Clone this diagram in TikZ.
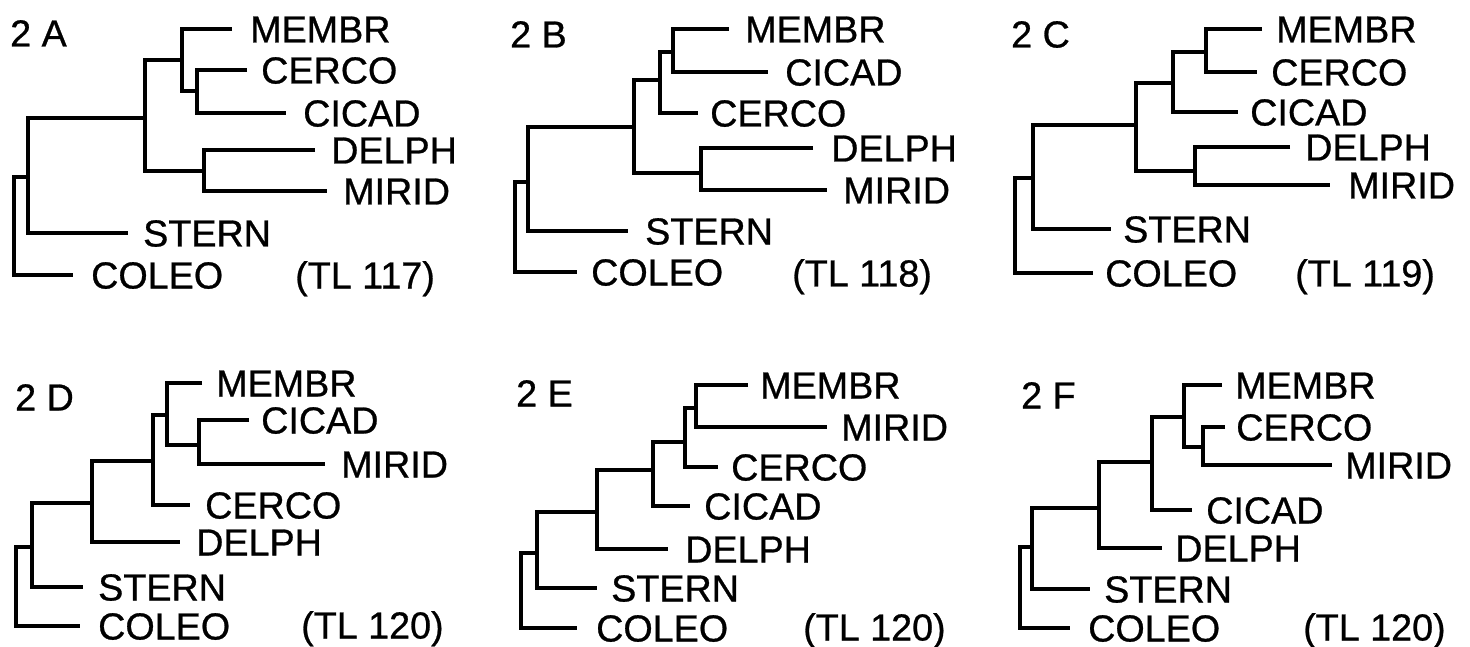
\documentclass[tikz,border=0pt]{standalone}
\usepackage{fontspec}
\setmainfont{Liberation Sans}
\newfontfamily\labfont{Liberation Sans}[FakeBold=0.7]
\begin{document}
\begin{tikzpicture}[x=1pt,y=-1pt,
  branch/.style={line width=4.8pt, line join=miter, line cap=butt},
  lab/.style={anchor=west, inner sep=0pt, xshift=-2pt,
    font=\labfont\fontsize{37.7}{40}\selectfont, text height=27pt, text depth=0pt},
  tag/.style={lab}]
\useasboundingbox[fill=white] (0,0) rectangle (1470,647);

% leaf: tip coordinate, label node beside it
\newcommand\leafnode[5]{%
  \coordinate (#1) at (#2,#4);
  \node[lab] (#1-name) at (#3,#4) {#5};}

% ---------------- 2 A ----------------
\node[tag] (tagA) at (12,33) {2 A};
\leafnode{a-membr}{232}{252}{29}{MEMBR}
\leafnode{a-cerco}{247}{263}{70}{CERCO}
\leafnode{a-cicad}{286}{305}{113}{CICAD}
\leafnode{a-delph}{315}{333}{150}{DELPH}
\leafnode{a-mirid}{327}{345}{191}{MIRID}
\leafnode{a-stern}{128}{145}{233}{STERN}
\leafnode{a-coleo}{73}{93}{275}{COLEO}
\node[lab] (tlA) at (297,275) {(TL 117)};
\coordinate (a1) at (197,91);
\coordinate (a2) at (182,60);
\coordinate (a3) at (204,171);
\coordinate (a4) at (145,118);
\coordinate (a5) at (28,177);
\coordinate (a6) at (14,226);
\draw[branch] (a-cerco) -| (a1) |- (a-cicad);
\draw[branch] (a-membr) -| (a2) |- (a1);
\draw[branch] (a-delph) -| (a3) |- (a-mirid);
\draw[branch] (a2) -| (a4) |- (a3);
\draw[branch] (a4) -| (a5) |- (a-stern);
\draw[branch] (a5) -| (a6) |- (a-coleo);

% ---------------- 2 B ----------------
\node[tag] (tagB) at (512,34) {2 B};
\leafnode{b-membr}{729}{747}{29}{MEMBR}
\leafnode{b-cicad}{768}{787}{72}{CICAD}
\leafnode{b-cerco}{698}{712}{113}{CERCO}
\leafnode{b-delph}{813}{833}{148}{DELPH}
\leafnode{b-mirid}{827}{845}{190}{MIRID}
\leafnode{b-stern}{628}{647}{231}{STERN}
\leafnode{b-coleo}{577}{593}{272}{COLEO}
\node[lab] (tlB) at (794,273) {(TL 118)};
\coordinate (b1) at (673,52);
\coordinate (b2) at (660,80);
\coordinate (b4) at (701,173);
\coordinate (b3) at (634,127);
\coordinate (b5) at (528,182);
\coordinate (b6) at (515,227);
\draw[branch] (b-membr) -| (b1) |- (b-cicad);
\draw[branch] (b1) -| (b2) |- (b-cerco);
\draw[branch] (b-delph) -| (b4) |- (b-mirid);
\draw[branch] (b2) -| (b3) |- (b4);
\draw[branch] (b3) -| (b5) |- (b-stern);
\draw[branch] (b5) -| (b6) |- (b-coleo);

% ---------------- 2 C ----------------
\node[tag] (tagC) at (1013,34) {2 C};
\leafnode{c-membr}{1262}{1278}{29}{MEMBR}
\leafnode{c-cerco}{1257}{1273}{72}{CERCO}
\leafnode{c-cicad}{1238}{1252}{112}{CICAD}
\leafnode{c-delph}{1290}{1307}{147}{DELPH}
\leafnode{c-mirid}{1330}{1350}{185}{MIRID}
\leafnode{c-stern}{1111}{1125}{229}{STERN}
\leafnode{c-coleo}{1093}{1107}{273}{COLEO}
\node[lab] (tlC) at (1297,273) {(TL 119)};
\coordinate (c1) at (1206,52);
\coordinate (c2) at (1173,83);
\coordinate (c4) at (1195,171);
\coordinate (c3) at (1136,125);
\coordinate (c5) at (1033,178);
\coordinate (c6) at (1015,225);
\draw[branch] (c-membr) -| (c1) |- (c-cerco);
\draw[branch] (c1) -| (c2) |- (c-cicad);
\draw[branch] (c-delph) -| (c4) |- (c-mirid);
\draw[branch] (c2) -| (c3) |- (c4);
\draw[branch] (c3) -| (c5) |- (c-stern);
\draw[branch] (c5) -| (c6) |- (c-coleo);

% ---------------- 2 D ----------------
\node[tag] (tagD) at (17,397) {2 D};
\leafnode{d-membr}{202}{218}{383}{MEMBR}
\leafnode{d-cicad}{249}{263}{420}{CICAD}
\leafnode{d-mirid}{325}{343}{464}{MIRID}
\leafnode{d-cerco}{190}{207}{505}{CERCO}
\leafnode{d-delph}{180}{198}{542}{DELPH}
\leafnode{d-stern}{83}{100}{587}{STERN}
\leafnode{d-coleo}{80}{100}{626}{COLEO}
\node[lab] (tlD) at (303,625) {(TL 120)};
\coordinate (d2) at (199,445);
\coordinate (d1) at (167,415);
\coordinate (d3) at (153,461);
\coordinate (d4) at (92,503);
\coordinate (d5) at (32,547);
\coordinate (d6) at (16,590);
\draw[branch] (d-cicad) -| (d2) |- (d-mirid);
\draw[branch] (d-membr) -| (d1) |- (d2);
\draw[branch] (d1) -| (d3) |- (d-cerco);
\draw[branch] (d3) -| (d4) |- (d-delph);
\draw[branch] (d4) -| (d5) |- (d-stern);
\draw[branch] (d5) -| (d6) |- (d-coleo);

% ---------------- 2 E ----------------
\node[tag] (tagE) at (518,393) {2 E};
\leafnode{e-membr}{748}{762}{385}{MEMBR}
\leafnode{e-mirid}{827}{843}{427}{MIRID}
\leafnode{e-cerco}{718}{733}{467}{CERCO}
\leafnode{e-cicad}{690}{706}{506}{CICAD}
\leafnode{e-delph}{668}{687}{549}{DELPH}
\leafnode{e-stern}{597}{613}{588}{STERN}
\leafnode{e-coleo}{577}{598}{628}{COLEO}
\node[lab] (tlE) at (805,627) {(TL 120)};
\coordinate (e1) at (696,408);
\coordinate (e2) at (685,442);
\coordinate (e3) at (653,470);
\coordinate (e4) at (597,512);
\coordinate (e5) at (537,553);
\coordinate (e6) at (521,590);
\draw[branch] (e-membr) -| (e1) |- (e-mirid);
\draw[branch] (e1) -| (e2) |- (e-cerco);
\draw[branch] (e2) -| (e3) |- (e-cicad);
\draw[branch] (e3) -| (e4) |- (e-delph);
\draw[branch] (e4) -| (e5) |- (e-stern);
\draw[branch] (e5) -| (e6) |- (e-coleo);

% ---------------- 2 F ----------------
\node[tag] (tagF) at (1023,395) {2 F};
\leafnode{f-membr}{1222}{1237}{385}{MEMBR}
\leafnode{f-cerco}{1225}{1238}{427}{CERCO}
\leafnode{f-mirid}{1332}{1347}{465}{MIRID}
\leafnode{f-cicad}{1192}{1208}{510}{CICAD}
\leafnode{f-delph}{1162}{1177}{548}{DELPH}
\leafnode{f-stern}{1090}{1106}{589}{STERN}
\leafnode{f-coleo}{1070}{1090}{628}{COLEO}
\node[lab] (tlF) at (1305,627) {(TL 120)};
\coordinate (f2) at (1203,447);
\coordinate (f1) at (1184,417);
\coordinate (f3) at (1152,462);
\coordinate (f4) at (1099,508);
\coordinate (f5) at (1032,547);
\coordinate (f6) at (1020,590);
\draw[branch] (f-cerco) -| (f2) |- (f-mirid);
\draw[branch] (f-membr) -| (f1) |- (f2);
\draw[branch] (f1) -| (f3) |- (f-cicad);
\draw[branch] (f3) -| (f4) |- (f-delph);
\draw[branch] (f4) -| (f5) |- (f-stern);
\draw[branch] (f5) -| (f6) |- (f-coleo);
\end{tikzpicture}
\end{document}
